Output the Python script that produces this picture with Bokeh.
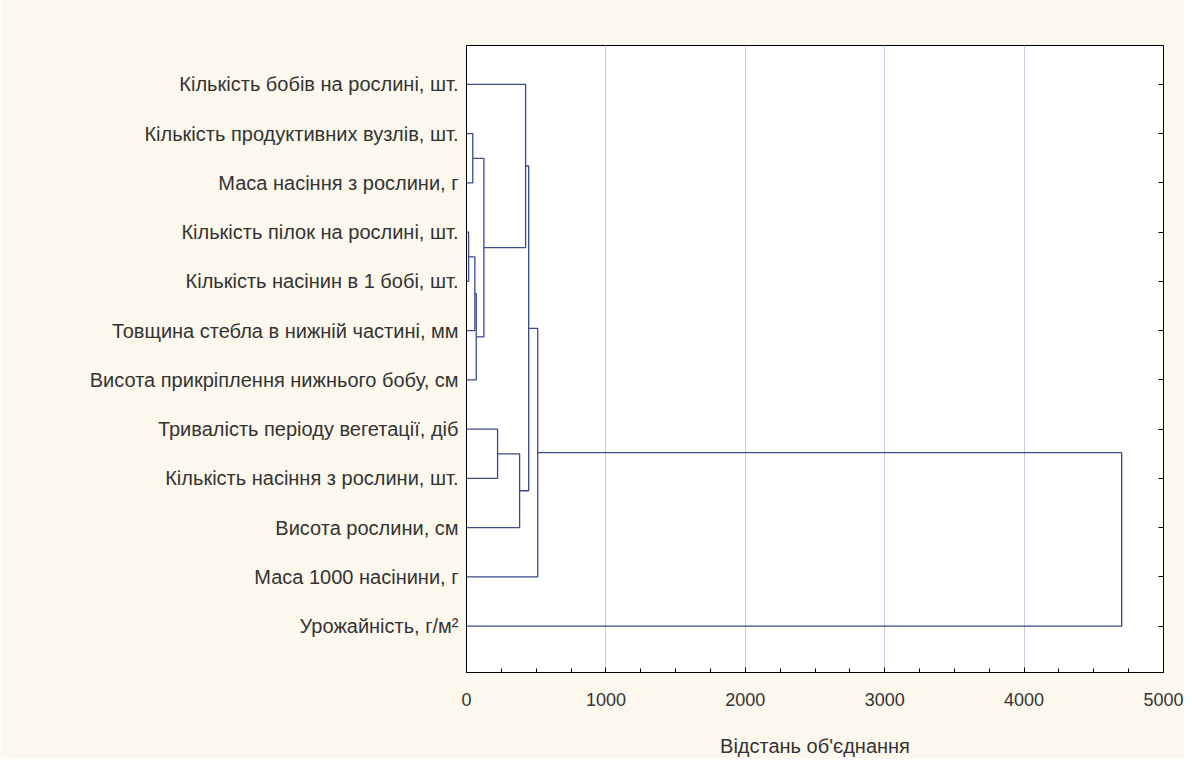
from bokeh.plotting import figure
from bokeh.models import LinearAxis, FixedTicker, Range1d
from bokeh.embed import file_html
from bokeh.resources import INLINE

# Дані дендрограми
labels = ["Кількість бобів на рослині, шт.",
          "Кількість продуктивних вузлів, шт.",
          "Маса насіння з рослини, г",
          "Кількість пілок на рослині, шт.",
          "Кількість насінин в 1 бобі, шт.",
          "Товщина стебла в нижній частині, мм",
          "Висота прикріплення нижнього бобу, см",
          "Тривалість періоду вегетації, діб",
          "Кількість насіння з рослини, шт.",
          "Висота рослини, см",
          "Маса 1000 насінини, г",
          "Урожайність, г/м²"]

# об'єднання: (вузол A, вузол B, відстань); вузли 0..11 - листки, далі 12, 13, ...
merge_a = [1, 3, 13, 14, 12, 0, 7, 18, 17, 20, 21]
merge_b = [2, 4, 5, 6, 15, 16, 8, 9, 19, 10, 11]
merge_h = [45, 15, 60, 70, 125, 424, 223, 381, 446, 511, 4700]

n = len(labels)
pos_y = {i: i + 1 for i in range(n)}
pos_x = {i: 0 for i in range(n)}
xs, ys = [], []
for k, (a, b, h) in enumerate(zip(merge_a, merge_b, merge_h)):
    xs.append([pos_x[a], h, h, pos_x[b]])
    ys.append([pos_y[a], pos_y[a], pos_y[b], pos_y[b]])
    pos_y[n + k] = (pos_y[a] + pos_y[b]) / 2
    pos_x[n + k] = h

BG = "#fdf8ee"
FONT = "Liberation Sans"

p = figure(width=1184, height=759, output_backend="svg", toolbar_location=None,
           x_range=Range1d(0, 5000), y_range=Range1d(12.94, 0.21),
           min_border_left=466, min_border_right=21, min_border_top=45,
           min_border_bottom=87, background_fill_color="white",
           border_fill_color=BG, outline_line_color="black")

p.multi_line(xs=xs, ys=ys, line_color="#3b4a8c", line_width=1.3)

p.xgrid.ticker = FixedTicker(ticks=[1000, 2000, 3000, 4000])
p.xgrid.grid_line_color = "#c5cde0"
p.ygrid.visible = False

xa = p.xaxis[0]
xa.ticker = FixedTicker(ticks=[0, 1000, 2000, 3000, 4000, 5000],
                        minor_ticks=[i * 250 for i in range(21)])
xa.major_tick_in = 5
xa.major_tick_out = 0
xa.minor_tick_in = 4
xa.minor_tick_out = 0
xa.major_label_standoff = 20
xa.axis_label = "Відстань об'єднання"
xa.axis_label_standoff = 26
xa.axis_label_text_font_style = "normal"

ya = p.yaxis[0]
ya.ticker = FixedTicker(ticks=list(range(1, n + 1)))
ya.major_label_overrides = {i + 1: t for i, t in enumerate(labels)}
ya.major_tick_in = 0
ya.major_tick_out = 0
ya.minor_tick_line_color = None
ya.major_label_standoff = 8

ra = LinearAxis(ticker=FixedTicker(ticks=list(range(1, n + 1))),
                major_tick_in=5, major_tick_out=0, minor_tick_line_color=None)
p.add_layout(ra, "right")

for ax in (xa, ya, ra):
    ax.axis_line_color = "black"
    ax.major_tick_line_color = "black"
    ax.major_label_text_font = FONT
    ax.major_label_text_font_size = "20px"
    ax.major_label_text_color = "#333333"
    ax.axis_label_text_font = FONT
    ax.axis_label_text_font_size = "20px"
    ax.axis_label_text_color = "#333333"
xa.major_label_text_font_size = "18px"
ra.major_label_text_color = None
ra.major_label_standoff = 0

open("out.html", "w").write(file_html(p, INLINE))
